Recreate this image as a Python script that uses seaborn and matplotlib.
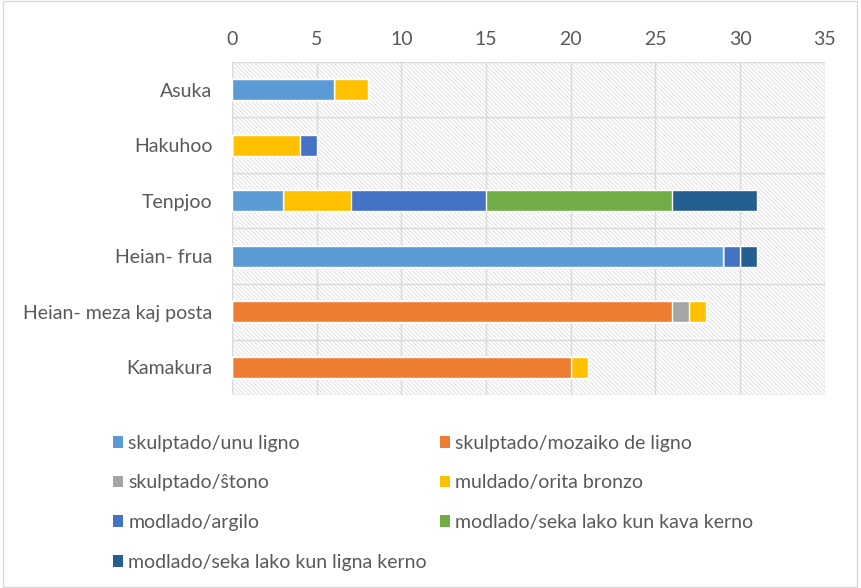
import numpy as np
import pandas as pd
import seaborn as sns
import matplotlib.pyplot as plt
from matplotlib.patches import Rectangle, Patch

# data
periods = ["Asuka", "Hakuhoo", "Tenpjoo", "Heian- frua", "Heian- meza kaj posta", "Kamakura"]
series_names = [
    "skulptado/unu ligno",
    "skulptado/mozaiko de ligno",
    "skulptado/ŝtono",
    "muldado/orita bronzo",
    "modlado/argilo",
    "modlado/seka lako kun kava kerno",
    "modlado/seka lako kun ligna kerno",
]
unu_ligno = [6, 0, 3, 29, 0, 0]
mozaiko = [0, 0, 0, 0, 26, 20]
stono = [0, 0, 0, 0, 1, 0]
bronzo = [2, 4, 4, 0, 1, 1]
argilo = [0, 1, 8, 1, 0, 0]
kava_kerno = [0, 0, 11, 0, 0, 0]
ligna_kerno = [0, 0, 5, 1, 0, 0]

colors = ["#5B9BD5", "#ED7D31", "#A5A5A5", "#FFC000", "#4472C4", "#70AD47", "#255E91"]

sns.set_style("white")
plt.rcParams["font.family"] = ["Lato", "DejaVu Sans"]
plt.rcParams["hatch.color"] = "#D9D9D9"
plt.rcParams["hatch.linewidth"] = 0.6
text_color = "#595959"

df = pd.DataFrame(
    np.array([unu_ligno, mozaiko, stono, bronzo, argilo, kava_kerno, ligna_kerno]).T,
    index=periods, columns=series_names,
)
cum = df.cumsum(axis=1)

fig = plt.figure(figsize=(8.61, 5.88), dpi=100)
ax = fig.add_axes([0.2695, 0.3282, 0.6885, 0.5664])

# hatched plot-area background
ax.add_patch(Rectangle((0, 0), 1, 1, transform=ax.transAxes, facecolor="white",
                       edgecolor="#DDDDDD", hatch="\\" * 8, linewidth=0, zorder=0))

# stacked bars: draw cumulative totals back to front
for i in range(len(series_names) - 1, -1, -1):
    layer = pd.DataFrame({"period": periods, "value": cum[series_names[i]].values})
    sns.barplot(data=layer, x="value", y="period", orient="h", color=colors[i],
                width=0.38, saturation=1, ax=ax, zorder=3)

ax.set_xlim(0, 35)
ax.set_ylim(len(periods) - 0.5, -0.5)
ax.set_xticks(range(0, 36, 5))
ax.xaxis.tick_top()
ax.set_yticks(np.arange(-0.5, len(periods), 1), minor=True)
ax.set_axisbelow(True)
ax.grid(axis="x", which="major", color="#D9D9D9", linewidth=1)
ax.grid(axis="y", which="minor", color="#D9D9D9", linewidth=1)
ax.tick_params(axis="both", which="both", length=0, labelsize=14, colors=text_color)
ax.tick_params(axis="x", pad=10)
ax.tick_params(axis="y", pad=14)
ax.set_xlabel("")
ax.set_ylabel("")
for s in ax.spines.values():
    s.set_visible(False)

# legend, row-major order in two columns
handles = [Patch(facecolor=c, edgecolor="none") for c in colors]
order = [0, 2, 4, 6, 1, 3, 5]
leg = fig.legend([handles[i] for i in order], [series_names[i] for i in order],
                 ncol=2, loc="upper left", bbox_to_anchor=(0.131, 0.261),
                 frameon=False, fontsize=14, handlelength=0.55, handleheight=0.55,
                 handletextpad=0.25, columnspacing=0.65, labelspacing=1.17,
                 borderpad=0, borderaxespad=0)
for t in leg.get_texts():
    t.set_color(text_color)

# chart frame
fig.patches.append(Rectangle((0.004, 0.002), 0.991, 0.996, transform=fig.transFigure,
                             fill=False, edgecolor="#D9D9D9", linewidth=1))

fig.savefig("out.png", dpi=100)
